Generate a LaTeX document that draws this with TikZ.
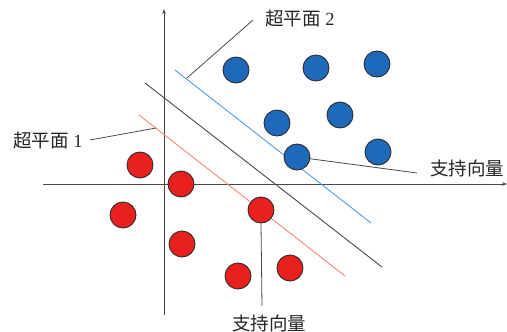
\documentclass[tikz,border=0pt]{standalone}
\usepackage{fontspec}
\newfontfamily\cjk{Noto Sans CJK SC}
\setmainfont{Liberation Serif}
\usetikzlibrary{arrows.meta}
\definecolor{bluept}{RGB}{30,105,185}
\definecolor{redpt}{RGB}{232,32,30}
\definecolor{blueln}{RGB}{80,155,225}
\definecolor{redln}{RGB}{245,135,115}
\definecolor{axisc}{RGB}{70,72,78}
\definecolor{edgec}{RGB}{45,45,45}
\begin{document}
\begin{tikzpicture}[x=1pt,y=-1pt,
  axis/.style={draw=axisc,line width=0.9pt,-{Stealth[length=5pt,width=3.5pt]}},
  hyp/.style={line width=0.9pt},
  leader/.style={draw=axisc,line width=0.8pt},
  bpt/.style={circle,fill=bluept,draw=edgec,line width=0.9pt,minimum size=26pt,inner sep=0pt},
  rpt/.style={circle,fill=redpt,draw=edgec,line width=0.9pt,minimum size=26pt,inner sep=0pt},
  lab/.style={font=\fontsize{18.5}{20}\selectfont,text=black!85,inner sep=0pt}]
\useasboundingbox (0,0) rectangle (507,332);
% axes
\coordinate (ya) at (164,315);
\coordinate (yb) at (164,9);
\coordinate (xa) at (43,184);
\coordinate (xb) at (507,184);
\draw[axis] (ya) -- (yb);
\draw[axis] (xa) -- (xb);
% hyperplanes
\coordinate (k1) at (145,83);
\coordinate (k2) at (382,267);
\coordinate (r1) at (139,115);
\coordinate (r2) at (345,276);
\coordinate (b1) at (175,70);
\coordinate (b2) at (371,223);
\draw[hyp,draw=axisc] (k1) -- (k2);
\draw[hyp,draw=redln] (r1) -- (r2);
\draw[hyp,draw=blueln] (b1) -- (b2);
% labels
\node[lab] (h1) at (48,140) {{\cjk 超平面} 1};
\node[lab] (h2) at (300,18) {{\cjk 超平面} 2};
\node[lab] (sva) at (467,168) {\cjk 支持向量};
\node[lab] (svb) at (269,323) {\cjk 支持向量};
\coordinate (h1e) at (156,128);
\coordinate (h1s) at (90,140);
\coordinate (h2e) at (187,78);
\coordinate (h2s) at (253,20);
\coordinate (svae) at (417,173);
\coordinate (svbe) at (262,306);
\draw[leader] (h1s) -- (h1e);
\draw[leader] (h2s) -- (h2e);
% blue points
\node[bpt] (B1) at (236,70) {};
\node[bpt] (B2) at (316,68) {};
\node[bpt] (B3) at (377,64) {};
\node[bpt] (B4) at (277,123) {};
\node[bpt] (B5) at (340,115) {};
\node[bpt] (B6) at (378,152) {};
\draw[leader] (297,157) -- (svae);
\node[bpt] (B7) at (297,157) {};
% red points
\node[rpt] (R1) at (140,165) {};
\node[rpt] (R2) at (181,184) {};
\node[rpt] (R3) at (123,215) {};
\node[rpt] (R4) at (182,244) {};
\node[rpt] (R5) at (238,276) {};
\node[rpt] (R6) at (290,268) {};
\node[rpt] (R7) at (261,210) {};
\draw[leader] (R7.south) -- (svbe);
\end{tikzpicture}
\end{document}
